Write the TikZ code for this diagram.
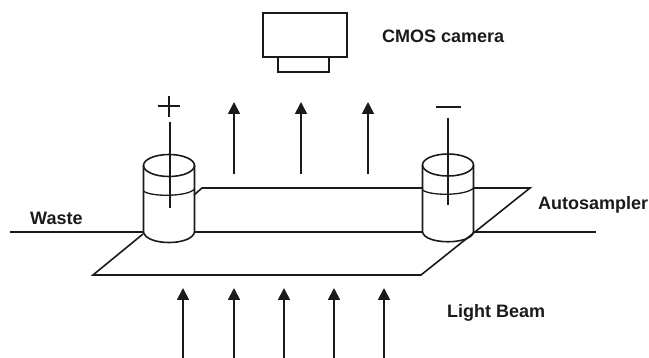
\documentclass[tikz,border=0pt]{standalone}
\usepackage{fontspec}
\setmainfont{Liberation Sans}
\usetikzlibrary{arrows.meta}
\definecolor{ink}{HTML}{1A1A1A}
\tikzset{
  line/.style={draw=ink,line width=1.6pt},
  beam/.style={draw=ink,line width=1.7pt,-{Triangle[length=12pt,width=12pt]}},
  lab/.style={font=\bfseries\fontsize{18}{21}\selectfont,text=ink,inner sep=0pt,anchor=west}
}
\begin{document}
\begin{tikzpicture}[x=1pt,y=-1pt]
\useasboundingbox (0,0) rectangle (649,358);
% camera
\draw[line] (263,13) rectangle (347,57);
\draw[line] (278,57) rectangle (329,72);
\node[lab] (cmos) at (382,36) {CMOS camera};
% plate
\draw[line] (143,234) -- (93,275) -- (421,275) -- (530,188) -- (473,188);
\draw[line] (423,188) -- (202,188) -- (194,195);
% channel
\draw[line] (10,232) -- (143,232);
\draw[line] (194,232) -- (423,232);
\draw[line] (473,232) -- (596,232);
% left cylinder
\draw[line] (169,165.5) ellipse [x radius=25.5,y radius=11];
\draw[line] (143.5,165.5) -- (143.5,232) .. controls (146,246) and (192,246) .. (194.5,232) -- (194.5,165.5);
\draw[line,line width=1.3pt] (143.5,191) .. controls (150,197) and (188,197) .. (194.5,189);
\draw[line] (170,122) -- (170,208);
\draw[line,line width=2.2pt] (158,106) -- (180,106);
\draw[line,line width=2.2pt] (169,96) -- (169,117);
% right cylinder
\draw[line] (448,165) ellipse [x radius=25.5,y radius=11];
\draw[line] (422.5,165) -- (422.5,232) .. controls (425,245) and (471,245) .. (473.5,232) -- (473.5,165);
\draw[line,line width=1.3pt] (422.5,190) .. controls (430,196) and (466,196) .. (473.5,188);
\draw[line] (448,118) -- (448,205);
\draw[line,line width=2.6pt] (436,107) -- (461,107);
% upper arrows
\foreach \n/\x in {a/234,b/301,c/368}{
  \coordinate (u\n s) at (\x,174);
  \coordinate (u\n e) at (\x,102);
  \draw[beam] (u\n s) -- (u\n e);
}
% lower arrows
\foreach \n/\x in {a/183,b/234,c/284,d/334,e/384}{
  \coordinate (l\n s) at (\x,358);
  \coordinate (l\n e) at (\x,288);
  \draw[beam] (l\n s) -- (l\n e);
}
\node[lab] (waste) at (30,218) {Waste};
\node[lab] (auto) at (538,205) {Autosampler};
\node[lab] (light) at (447,313) {Light Beam};
\end{tikzpicture}
\end{document}
